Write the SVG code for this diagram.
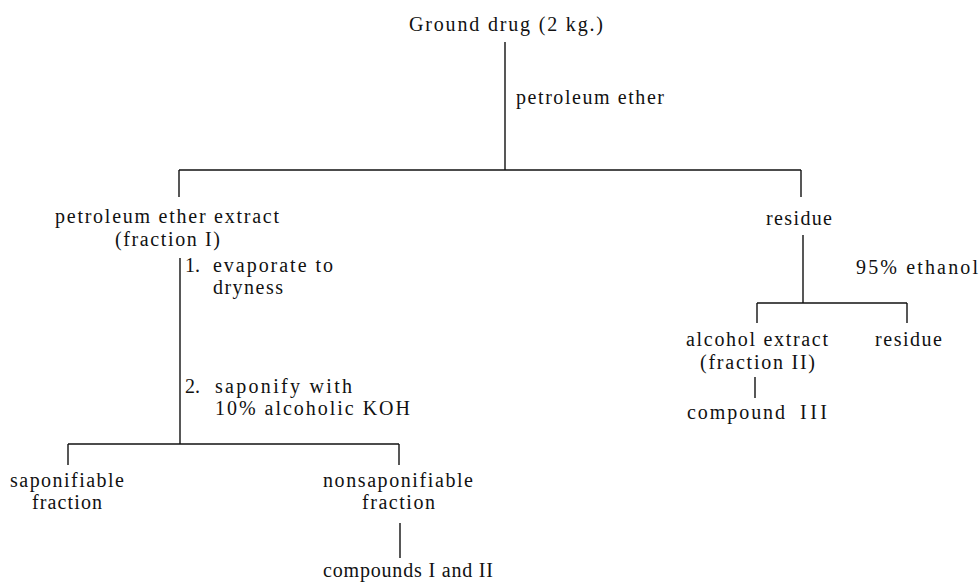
<svg xmlns="http://www.w3.org/2000/svg" width="979" height="587" viewBox="0 0 979 587">
<style>
text{font-family:'Liberation Serif','DejaVu Serif',serif;font-size:20px;fill:#111;}
.c line{stroke:#111;stroke-width:1.4;fill:none;}
</style>
<rect width="979" height="587" fill="#fff"/>
<g class="c" id="connectors">
<line x1="505" y1="42" x2="505" y2="170"/>
<line x1="179" y1="170" x2="801" y2="170"/>
<line x1="179" y1="170" x2="179" y2="197"/>
<line x1="801" y1="170" x2="801" y2="197"/>
<line x1="180" y1="258" x2="180" y2="444"/>
<line x1="68" y1="444" x2="399" y2="444"/>
<line x1="68" y1="444" x2="68" y2="465"/>
<line x1="399" y1="444" x2="399" y2="465"/>
<line x1="400" y1="523" x2="400" y2="558"/>
<line x1="803" y1="235" x2="803" y2="303"/>
<line x1="757" y1="303" x2="907" y2="303"/>
<line x1="757" y1="303" x2="757" y2="323"/>
<line x1="907" y1="303" x2="907" y2="323"/>
<line x1="755" y1="377" x2="755" y2="398"/>
</g>
<g id="labels">
<text x="516" y="104" textLength="148">petroleum ether</text>
<text x="185" y="272">1.</text>
<text x="213" y="272" textLength="120">evaporate to</text>
<text x="213" y="294" textLength="70">dryness</text>
<text x="185" y="393">2.</text>
<text x="215" y="393" textLength="137">saponify with</text>
<text x="215" y="415" textLength="195">10% alcoholic KOH</text>
<text x="856" y="274" textLength="122">95% ethanol</text>
</g>
<g id="ground-drug"><text x="409" y="31" textLength="194">Ground drug (2 kg.)</text></g>
<g id="pe-extract">
<text x="55" y="223" textLength="224">petroleum ether extract</text>
<text x="115" y="246" textLength="105">(fraction I)</text>
</g>
<g id="residue1"><text x="766" y="225" textLength="66">residue</text></g>
<g id="alcohol-extract">
<text x="686" y="346" textLength="142">alcohol extract</text>
<text x="700" y="369" textLength="115">(fraction II)</text>
</g>
<g id="residue2"><text x="875" y="346" textLength="67">residue</text></g>
<g id="compound3">
<text x="687" y="419" textLength="98">compound</text>
<text x="800" y="419" textLength="27">III</text>
</g>
<g id="saponifiable">
<text x="10" y="487" textLength="114">saponifiable</text>
<text x="32" y="509" textLength="70">fraction</text>
</g>
<g id="nonsaponifiable">
<text x="323" y="487" textLength="150">nonsaponifiable</text>
<text x="362" y="509" textLength="73">fraction</text>
</g>
<g id="compounds12"><text x="323" y="577" textLength="170">compounds I and II</text></g>
</svg>
